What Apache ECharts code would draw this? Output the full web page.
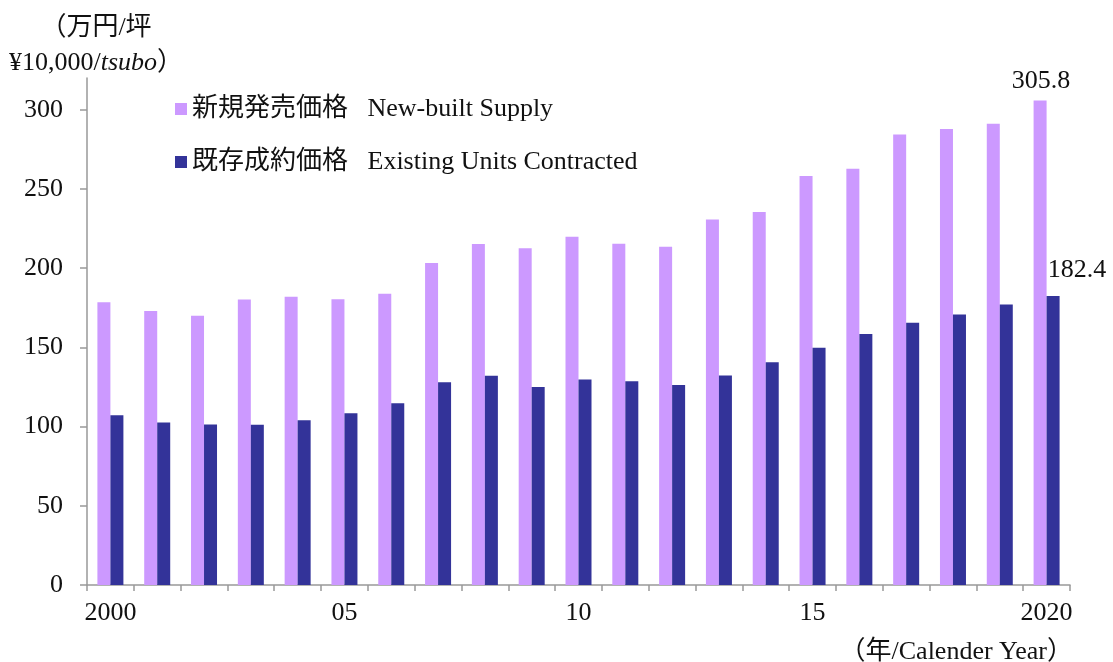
<!DOCTYPE html>
<html>
<head>
<meta charset="utf-8">
<script src="https://cdn.jsdelivr.net/npm/echarts@6/dist/echarts.min.js"></script>
<style>
html,body{margin:0;padding:0;background:#fff;}
#chart{width:1113px;height:662px;}
</style>
</head>
<body>
<div id="chart"></div>
<script>
const years = ['2000','2001','2002','2003','2004','2005','2006','2007','2008','2009','2010','2011','2012','2013','2014','2015','2016','2017','2018','2019','2020'];
const xTickLabels = {'2000':'2000','2005':'05','2010':'10','2015':'15','2020':'2020'};
const yTickValues = [0,50,100,150,200,250,300];
const newBuiltName = '新規発売価格   New-built Supply';
const existingName = '既存成約価格   Existing Units Contracted';
const newBuilt = [178.5,173.0,169.9,180.2,181.9,180.4,183.8,203.2,215.2,212.6,219.8,215.4,213.5,230.7,235.4,258.1,262.7,284.4,287.8,291.2,305.8];
const existing = [107.2,102.5,101.3,101.2,104.0,108.4,114.7,128.0,132.0,124.9,129.7,128.6,126.3,132.2,140.6,149.7,158.5,165.5,170.7,177.0,182.4];

const FONT = "'Liberation Serif','Noto Sans CJK JP',serif";
const FS = 26;
const last = years.length - 1;

function withLastLabel(arr, labelOpt) {
  return arr.map((v, i) => i === last ? {value: v, label: Object.assign({show: true, formatter: '{c}', color: '#111', fontFamily: FONT, fontSize: FS}, labelOpt)} : v);
}

const chart = echarts.init(document.getElementById('chart'), null, {renderer: 'canvas'});
chart.setOption({
  animation: false,
  backgroundColor: '#ffffff',
  textStyle: {fontFamily: FONT, color: '#111'},
  grid: {left: 87, right: 43, top: 78, bottom: 77, containLabel: false},
  legend: {
    orient: 'vertical',
    left: 170,
    top: 91,
    itemWidth: 12,
    itemHeight: 12,
    itemGap: 27,
    icon: 'rect',
    textStyle: {fontFamily: FONT, fontSize: FS, color: '#111', padding: [0,0,0,0]},
    data: [newBuiltName, existingName]
  },
  xAxis: {
    type: 'category',
    data: years,
    boundaryGap: true,
    axisLine: {lineStyle: {color: '#999', width: 1.5}},
    axisTick: {show: true, length: 6, interval: 0, lineStyle: {color: '#999', width: 1.5}},
    axisLabel: {
      interval: (i, v) => xTickLabels[v] !== undefined,
      formatter: v => xTickLabels[v] || '',
      fontFamily: FONT, fontSize: FS, color: '#111', margin: 15
    },
    splitLine: {show: false}
  },
  yAxis: {
    type: 'value',
    min: 0,
    max: 320,
    interval: 50,
    axisLine: {show: true, lineStyle: {color: '#999', width: 1.5}},
    axisTick: {show: true, length: 7, customValues: yTickValues, lineStyle: {color: '#999', width: 1.5}},
    axisLabel: {customValues: yTickValues, fontFamily: FONT, fontSize: FS, color: '#111', margin: 24},
    splitLine: {show: false}
  },
  series: [
    {
      name: newBuiltName,
      type: 'bar',
      barWidth: 13,
      barGap: '0%',
      itemStyle: {color: '#CC99FF'},
      data: withLastLabel(newBuilt, {position: 'top', distance: 6, offset: [1, 0]})
    },
    {
      name: existingName,
      type: 'bar',
      barWidth: 13,
      barGap: '0%',
      itemStyle: {color: '#333399'},
      data: withLastLabel(existing, {position: 'top', distance: 5, offset: [24, -8]})
    }
  ],
  graphic: [
    {
      type: 'text',
      x: 96,
      y: 11,
      style: {
        text: '（万円/坪\n¥10,000/{i|tsubo}）',
        textAlign: 'center',
        font: FS + 'px ' + FONT,
        fill: '#111',
        lineHeight: 35,
        rich: {i: {fontStyle: 'italic', fontFamily: FONT, fontSize: FS, fill: '#111', lineHeight: 35}}
      }
    },
    {
      type: 'text',
      x: 1073,
      y: 652,
      style: {
        text: '（年/Calender Year）',
        textAlign: 'right',
        textVerticalAlign: 'middle',
        font: FS + 'px ' + FONT,
        fill: '#111'
      }
    }
  ]
});
</script>
</body>
</html>
